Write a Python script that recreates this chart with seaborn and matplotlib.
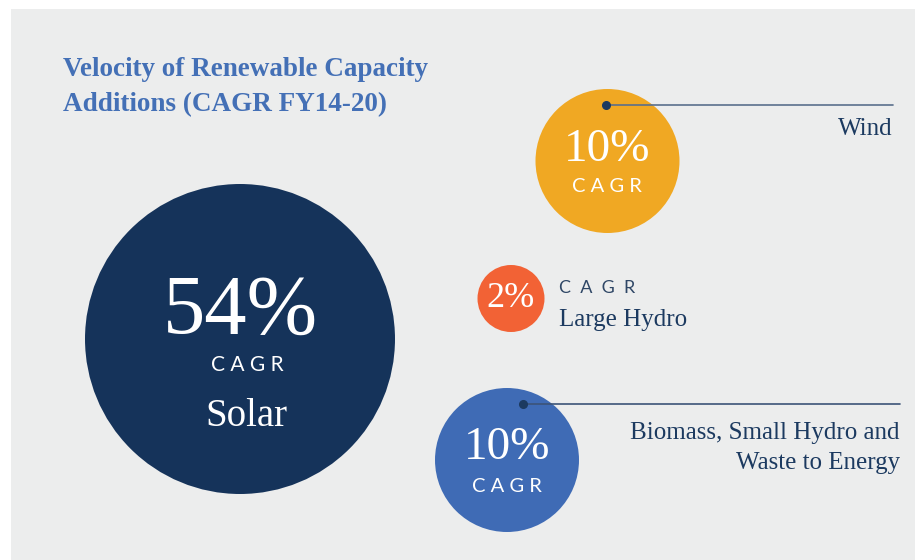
import matplotlib
matplotlib.use("Agg")
import matplotlib.pyplot as plt
from matplotlib.patches import Rectangle
import seaborn as sns
import pandas as pd

# Data
categories = ["Solar", "Wind", "Large Hydro", "Biomass, Small Hydro and\nWaste to Energy"]
cagr_values = [54, 10, 2, 10]
title_text = "Velocity of Renewable Capacity\nAdditions (CAGR FY14-20)"

# Layout (pixel coordinates, y downward) and styling
centers_x = [240, 607.5, 511, 507]
centers_y = [339, 161, 298.5, 460]
radii = [155, 72, 33.5, 72]
colors = ["#15335a", "#f0a823", "#f26235", "#3f6bb5"]

DPI = 100
W, H = 915, 560
BG = "#eceded"
NAVY_TEXT = "#1c3a60"
TITLE_BLUE = "#4470b6"
SERIF = ["Liberation Serif", "DejaVu Serif"]
SANS = ["Lato", "DejaVu Sans"]

sns.set_theme(style="white")

df = pd.DataFrame({
    "category": categories,
    "cagr": cagr_values,
    "x": centers_x,
    "y": centers_y,
})

fig = plt.figure(figsize=(W / DPI, H / DPI), dpi=DPI, facecolor="white")
ax = fig.add_axes([0, 0, 1, 1])

# Light gray panel
ax.add_patch(Rectangle((11, 9), W - 11, H - 9, facecolor=BG, edgecolor="none", zorder=0))

# Bubbles: marker area in points^2 from pixel radius
sizes = {c: (2 * r * 72 / DPI) ** 2 for c, r in zip(categories, radii)}
palette = dict(zip(categories, colors))
sns.scatterplot(data=df, x="x", y="y", hue="category", size="category",
                sizes=sizes, palette=palette, linewidth=0, legend=False,
                ax=ax, zorder=2, alpha=1)
ax.set_xlim(0, W)
ax.set_ylim(H, 0)
ax.set_axis_off()

def pct(v):
    return f"{v}%"

CAGR_SPACED = "C A G R"

# Title
ax.text(63, 87, title_text, ha="left", va="center", fontsize=19.5, fontweight="bold",
        color=TITLE_BLUE, family=SERIF, linespacing=1.55)

# Solar
sx, sy = centers_x[0], centers_y[0]
ax.text(sx + 0, sy - 26, pct(cagr_values[0]), ha="center", va="center", fontsize=61,
        color="white", family=SERIF, zorder=3)
ax.text(sx + 7, sy + 26, CAGR_SPACED, ha="center", va="center", fontsize=15,
        color="white", family=SANS, zorder=3)
ax.text(sx + 6, sy + 78, categories[0], ha="center", va="center", fontsize=28,
        color="white", family=SERIF, zorder=3)

# Wind
wx, wy = centers_x[1], centers_y[1]
ax.text(wx, wy - 11, pct(cagr_values[1]), ha="center", va="center", fontsize=34,
        color="white", family=SERIF, zorder=3)
ax.text(wx - 1, wy + 25, CAGR_SPACED, ha="center", va="center", fontsize=14.5,
        color="white", family=SANS, zorder=3)
ax.plot([606, 893], [104.5, 104.5], color="#5a6f8c", lw=1.2, zorder=3)
ax.plot([606], [104.5], marker="o", ms=5.5, color=NAVY_TEXT, zorder=4)
ax.text(893, 129, categories[1], ha="right", va="center", fontsize=18,
        color=NAVY_TEXT, family=SERIF)

# Large Hydro
hx, hy = centers_x[2], centers_y[2]
ax.text(hx, hy, pct(cagr_values[2]), ha="center", va="center", fontsize=26,
        color="white", family=SERIF, zorder=3)
ax.text(559, 288, "C  A  G  R", ha="left", va="center", fontsize=13,
        color="#2f4766", family=SANS)
ax.text(559, 320, categories[2], ha="left", va="center", fontsize=18,
        color=NAVY_TEXT, family=SERIF)

# Biomass, Small Hydro and Waste to Energy
bx, by = centers_x[3], centers_y[3]
ax.text(bx, by - 12, pct(cagr_values[3]), ha="center", va="center", fontsize=34,
        color="white", family=SERIF, zorder=3)
ax.text(bx, by + 26, CAGR_SPACED, ha="center", va="center", fontsize=14.5,
        color="white", family=SANS, zorder=3)
ax.plot([523, 900], [404, 404], color="#3c5478", lw=1.2, zorder=3)
ax.plot([523], [404], marker="o", ms=5.5, color=NAVY_TEXT, zorder=4)
ax.text(900, 448, categories[3], ha="right", va="center", fontsize=18,
        color=NAVY_TEXT, family=SERIF, linespacing=1.5, multialignment="right")

fig.savefig("out.png", dpi=DPI, facecolor="white")
